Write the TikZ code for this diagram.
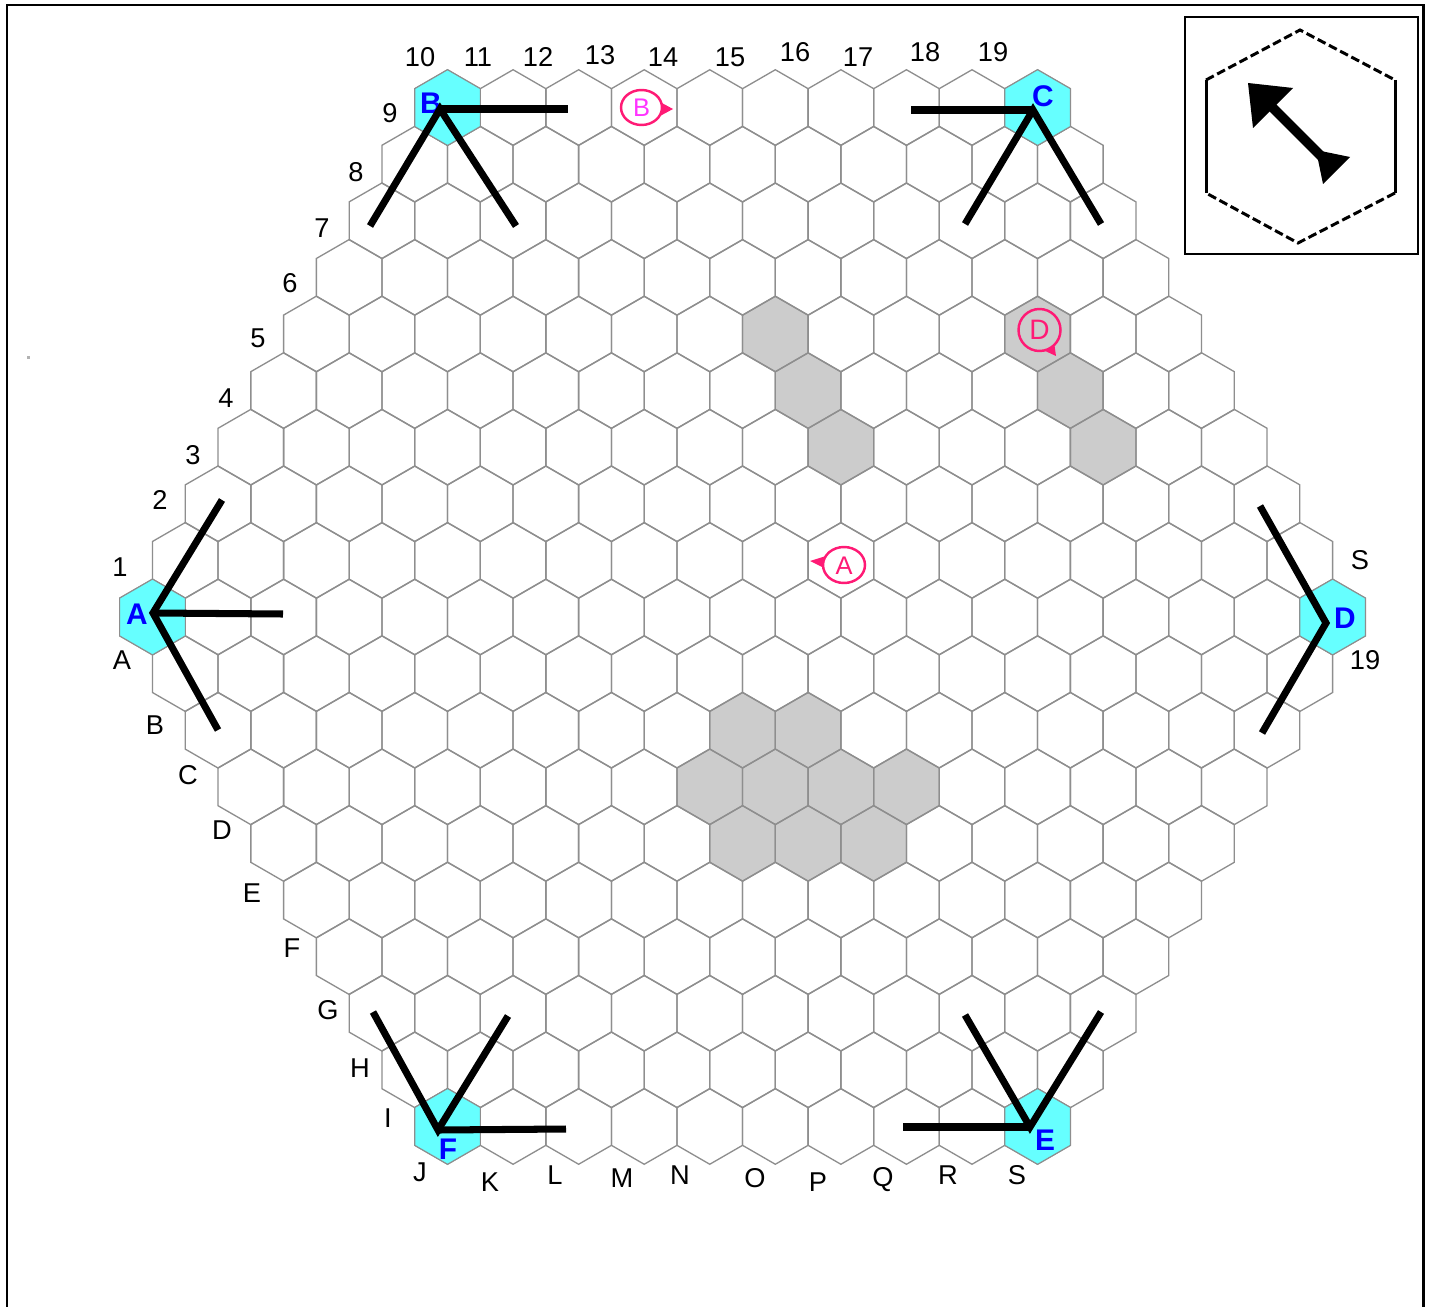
\documentclass[tikz,border=0pt]{standalone}
\usepackage{fontspec}
\setmainfont{Liberation Sans}
\definecolor{gridgray}{HTML}{8E8E8E}
\definecolor{cellgray}{HTML}{CCCCCC}
\definecolor{cyancell}{HTML}{66FFFF}
\definecolor{pinkmark}{HTML}{FF1A75}
\definecolor{magletter}{HTML}{FF33FF}
\begin{document}
\begin{tikzpicture}[x=0.02cm,y=-0.02cm,
  declare function={hx(\r,\k)=152.5+abs(\r)*32.78+\k*65.56; hy(\r)=617+\r*56.6;},
  hexcell/.pic={\path[pic actions] (30:37.85) -- (90:37.85) -- (150:37.85) -- (210:37.85) -- (270:37.85) -- (330:37.85) -- cycle;},
  gridline/.style={draw=gridgray,line width=0.75pt},
  graycell/.style={fill=cellgray,draw=none},
  cyanhex/.style={fill=cyancell,draw=gridgray,line width=0.6pt},
  lbl/.style={font=\fontsize{15.5}{17}\selectfont,text=black,inner sep=0pt},
  cornerlbl/.style={font=\bfseries\fontsize{17}{19}\selectfont,text=blue,inner sep=0pt},
  bar/.style={line width=4pt,black,line cap=butt,line join=miter},
  markring/.style={draw=pinkmark,line width=1.4pt,fill=white},
  marktip/.style={fill=pinkmark,draw=none},
  marklbl/.style={font=\fontsize{14.5}{16}\selectfont,inner sep=0pt},
]
% canvas and frame
\useasboundingbox (0,0) rectangle (1429,1307);
\fill[white] (0,0) rectangle (1429,1307);
\draw[line width=1.7pt,black] (7,1307) -- (7,5) -- (1423,5) -- (1423,1307);
\fill[gray!60] (27,356) rectangle (30,359);

% filled cells
\foreach \r/\k in {-5/7,-4/8,-3/9,-5/11,-4/12,-3/13,2/8,2/9,3/7,3/8,3/9,3/10,4/7,4/8,4/9}
  \pic[graycell] at ({hx(\r,\k)},{hy(\r)}) {hexcell};

% grid
\foreach \r in {-9,...,9} {
  \pgfmathtruncatemacro\nmax{18-abs(\r)}
  \foreach \k in {0,...,\nmax}
    \pic[gridline] at ({hx(\r,\k)},{hy(\r)}) {hexcell};
}

% corner cells
\foreach \r/\k in {0/0,0/18,-9/0,-9/9,9/0,9/9}
  \pic[cyanhex] at ({hx(\r,\k)},{hy(\r)}) {hexcell};

% corner labels
\node[cornerlbl] (cA) at (137,614) {A};
\node[cornerlbl] (cB) at (431,103) {B};
\node[cornerlbl] (cC) at (1043,96) {C};
\node[cornerlbl] (cD) at (1345,618) {D};
\node[cornerlbl] (cE) at (1045,1140) {E};
\node[cornerlbl] (cF) at (448,1149) {F};

% black bars
\coordinate (jA) at (153,613);
\coordinate (jB) at (440,109);
\coordinate (jC) at (1033,110);
\coordinate (jD) at (1326,623);
\coordinate (jE) at (1030,1127);
\coordinate (jF) at (438,1130);
\coordinate (a1) at (222,500); \coordinate (a2) at (283,614); \coordinate (a3) at (218,730);
\coordinate (b1) at (568,109); \coordinate (b2) at (370,226); \coordinate (b3) at (516,226);
\coordinate (c1) at (911,110); \coordinate (c2) at (965,224); \coordinate (c3) at (1101,224);
\coordinate (d1) at (1260,506); \coordinate (d2) at (1262,733);
\coordinate (f1) at (566,1129); \coordinate (f2) at (373,1012); \coordinate (f3) at (508,1016);
\coordinate (e1) at (903,1127); \coordinate (e2) at (965,1015); \coordinate (e3) at (1101,1012);
\draw[bar] (a1) -- (jA) -- (a3); \draw[bar] (jA) -- (a2);
\draw[bar] (b2) -- (jB) -- (b3); \draw[bar] (jB) -- (b1);
\draw[bar] (c2) -- (jC) -- (c3); \draw[bar] (jC) -- (c1);
\draw[bar] (d1) -- (jD) -- (d2);
\draw[bar] (f2) -- (jF) -- (f3); \draw[bar] (jF) -- (f1);
\draw[bar] (e2) -- (jE) -- (e3); \draw[bar] (jE) -- (e1);

% markers
\fill[marktip] (660,102) -- (673,109) -- (660,116) -- cycle;
\draw[markring] (641.5,107.5) ellipse [x radius=20.5, y radius=17.5];
\node[marklbl,text=magletter] (mB) at (641.5,108) {B};
\fill[marktip] (826,556) -- (810,561) -- (826,569) -- cycle;
\draw[markring] (844,565) ellipse [x radius=21, y radius=18];
\node[marklbl,text=pinkmark] (mA) at (844,566) {A};
\fill[marktip] (1043,350) -- (1056,356) -- (1054,342) -- cycle;
\draw[markring,fill=cellgray] (1039.5,330) ellipse [x radius=21, y radius=21];
\node[marklbl,text=pinkmark,font=\fontsize{16}{18}\selectfont] (mD) at (1039.5,330) {D};

% coordinate labels
\foreach \t/\x/\y [count=\i] in {1/120/567,2/160/500,3/193/455,4/226/398,5/258/338,6/290/283,7/322/228,8/356/172,9/390/113,10/420/57,11/478/57,12/538/57,13/600/55,14/663/57,15/730/57,16/795/52,17/858/57,18/925/52,19/993/52}
  \node[lbl] (num\i) at (\x,\y) {\t};
\foreach \t/\x/\y [count=\i] in {A/122/660,B/155/725,C/188/775,D/222/830,E/252/893,F/292/948,G/328/1010,H/360/1068,I/388/1118,J/420/1172,K/490/1182,L/555/1175,M/622/1178,N/680/1175,O/755/1178,P/818/1182,Q/883/1180,R/948/1175,S/1017/1175}
  \node[lbl] (let\i) at (\x,\y) {\t};
\node[lbl] (rS) at (1360,560) {S};
\node[lbl] (r19) at (1365,660) {19};

% inset
\draw[line width=1.1pt,black] (1185,17) rectangle (1418,254);
\coordinate (h1) at (1300,30);
\coordinate (h2) at (1395,80);
\coordinate (h3) at (1395,193);
\coordinate (h4) at (1298,243);
\coordinate (h5) at (1206,193);
\coordinate (h6) at (1206,80);
\draw[line width=1.7pt,dash pattern=on 5pt off 2.2pt] (h6) -- (h1) -- (h2);
\draw[line width=1.7pt,dash pattern=on 5pt off 2.2pt] (h3) -- (h4) -- (h5);
\draw[line width=1.7pt] (h2) -- (h3);
\draw[line width=1.7pt] (h5) -- (h6);
\fill[black] (1248,83) -- (1293,88) -- (1253,128) -- cycle;
\draw[line width=5.5pt,black] (1268,103) -- (1325,160);
\fill[black] (1316,150) -- (1350,157) -- (1323,184) -- cycle;
\end{tikzpicture}
\end{document}
